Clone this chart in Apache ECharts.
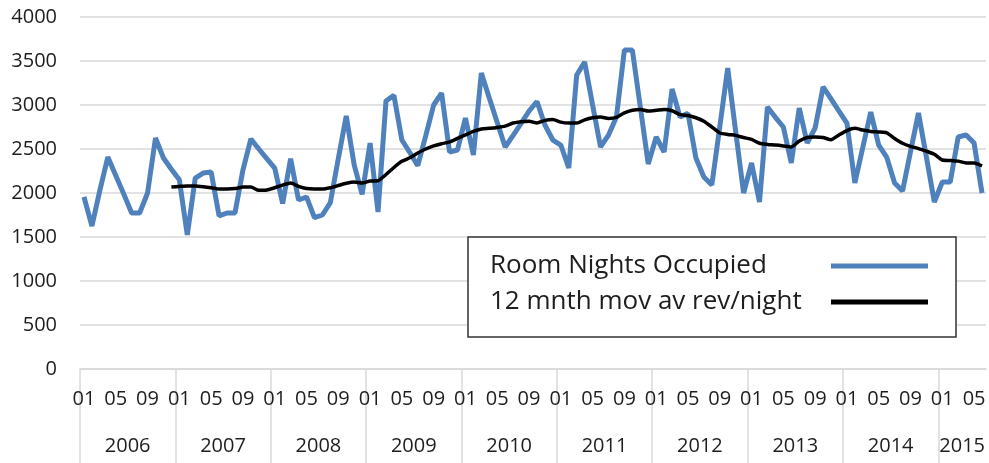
<!DOCTYPE html>
<html>
<head>
<meta charset="utf-8">
<script src="https://cdn.jsdelivr.net/npm/echarts@6/dist/echarts.min.js"></script>
<style>
html,body{margin:0;padding:0;background:#fff;}
#chart{width:989px;height:463px;}
</style>
</head>
<body>
<div id="chart"></div>
<script>
var years = ['2006','2007','2008','2009','2010','2011','2012','2013','2014','2015'];
var monthCodes = ['01','02','03','04','05','06','07','08','09','10','11','12'];
var monthsInLastYear = 6;

var roomNights = [
 1955,1625,2030,2409,2200,1990,1773,1773,2000,2625,2398,2270,
 2150,1523,2170,2227,2239,1740,1773,1773,2261,2614,2500,2390,
 2284,1880,2390,1920,1955,1720,1750,1890,2390,2875,2320,1985,
 2568,1784,3045,3110,2602,2460,2310,2650,3000,3136,2466,2489,
 2852,2432,3364,3080,2800,2523,2655,2790,2930,3040,2773,2602,
 2545,2284,3341,3489,3000,2523,2659,2864,3625,3625,2980,2330,
 2636,2466,3182,2864,2905,2398,2182,2091,2750,3420,2700,2000,
 2341,1898,2977,2860,2750,2341,2966,2568,2739,3205,3070,2930,
 2795,2114,2520,2920,2545,2409,2114,2023,2470,2909,2409,1898,
 2125,2125,2636,2659,2568,2000
];

var movAvg = [
 null,null,null,null,null,null,null,null,null,null,null,2068,
 2075,2080,2080,2072,2060,2045,2045,2050,2068,2068,2030,2034,
 2060,2090,2114,2075,2050,2045,2045,2060,2085,2110,2125,2114,
 2136,2140,2210,2290,2360,2400,2455,2500,2535,2560,2580,2620,
 2660,2700,2727,2735,2745,2760,2795,2810,2815,2795,2825,2835,
 2805,2795,2795,2830,2855,2864,2848,2860,2910,2940,2950,2932,
 2940,2950,2935,2890,2880,2855,2815,2750,2682,2665,2655,2630,
 2610,2565,2552,2545,2535,2523,2590,2630,2636,2630,2605,2660,
 2710,2735,2715,2700,2693,2684,2620,2565,2530,2505,2475,2440,
 2375,2370,2362,2342,2341,2307
];

var categories = [];
years.forEach(function(y, yi){
  var n = (yi === years.length - 1) ? monthsInLastYear : 12;
  for (var m = 0; m < n; m++) categories.push(y + '-' + monthCodes[m]);
});
var total = categories.length;
var yearStarts = [], yearCenters = [];
years.forEach(function(y, yi){
  var s = yi * 12, e = Math.min(s + 12, total);
  yearStarts.push(s);
  yearCenters.push((s + e) / 2);
});

var FONT = '"Open Sans", "Liberation Sans", sans-serif';
var chart = echarts.init(document.getElementById('chart'), null, {renderer:'canvas'});
chart.setOption({
  animation: false,
  backgroundColor: '#ffffff',
  grid: {left: 80, right: 3, top: 17, bottom: 94, containLabel: false},
  xAxis: [{
    type: 'category',
    data: categories,
    boundaryGap: true,
    axisLine: {show: true, lineStyle: {color: '#d9d9d9', width: 1.5}},
    axisTick: {show: false},
    axisLabel: {
      interval: 3,
      margin: 20,
      fontFamily: FONT, fontSize: 20, color: '#1e1e1e', lineHeight: 20,
      formatter: function(v){ return v.slice(5); }
    },
    splitLine: {show: false}
  }, {
    type: 'value',
    min: 0, max: total,
    position: 'bottom',
    axisLine: {show: false},
    axisTick: {show: true, customValues: yearStarts, length: 94, inside: false,
      lineStyle: {color: '#d9d9d9', width: 1.5}},
    axisLabel: {
      customValues: yearCenters,
      margin: 67,
      fontFamily: FONT, fontSize: 20, color: '#1e1e1e', lineHeight: 20,
      formatter: function(v){ return years[Math.floor(v / 12)]; }
    },
    splitLine: {show: false}
  }],
  yAxis: {
    type: 'value',
    min: 0, max: 4000, interval: 500,
    axisLine: {show: false},
    axisTick: {show: false},
    axisLabel: {margin: 23, fontFamily: FONT, fontSize: 20, color: '#1e1e1e',
      formatter: function(v){ return String(v); }},
    splitLine: {show: true, lineStyle: {color: '#d9d9d9', width: 1.5}}
  },
  legend: {
    orient: 'vertical',
    left: 468, top: 237,
    align: 'right',
    padding: [16, 28, 22, 22],
    itemGap: 10,
    itemWidth: 97, itemHeight: 5,
    icon: 'rect',
    backgroundColor: '#ffffff',
    borderColor: '#333333', borderWidth: 1.5,
    formatter: function(name){ return '{t|' + name + '}'; },
    textStyle: {
      fontFamily: FONT, fontSize: 26, color: '#1e1e1e', lineHeight: 26,
      rich: {t: {fontFamily: FONT, fontSize: 26, color: '#1e1e1e', lineHeight: 26, width: 336, align: 'left'}}
    },
    data: ['Room Nights Occupied', '12 mnth mov av rev/night']
  },
  series: [{
    name: 'Room Nights Occupied',
    type: 'line',
    data: roomNights,
    symbol: 'none',
    lineStyle: {color: '#4f81bd', width: 5},
    itemStyle: {color: '#4f81bd'},
    z: 2
  }, {
    name: '12 mnth mov av rev/night',
    type: 'line',
    data: movAvg,
    symbol: 'none',
    smooth: 0.2,
    connectNulls: false,
    lineStyle: {color: '#000000', width: 3.5},
    itemStyle: {color: '#000000'},
    z: 3
  }]
});
</script>
</body>
</html>
